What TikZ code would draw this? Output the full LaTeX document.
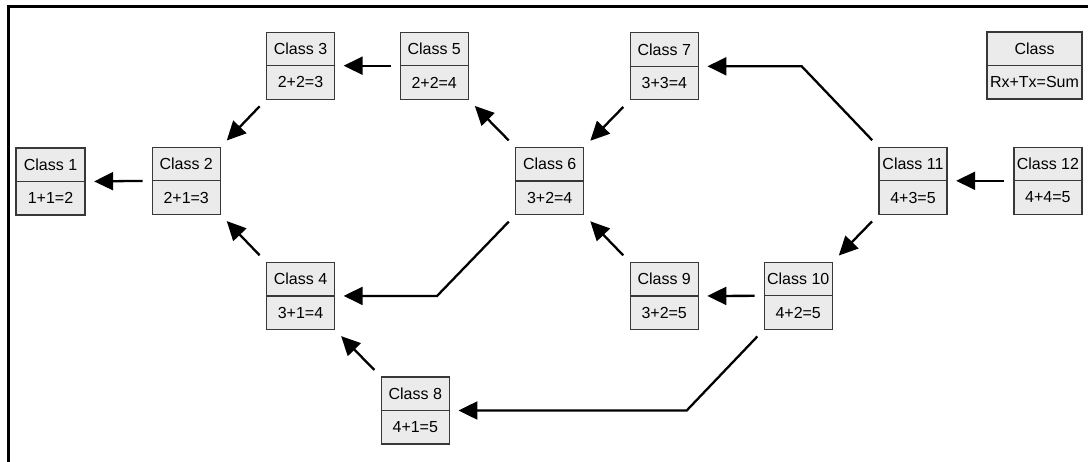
\documentclass[tikz,border=0pt]{standalone}
\usepackage{fontspec}
\setmainfont{Liberation Sans}
\usetikzlibrary{arrows.meta,calc}
\definecolor{boxfill}{HTML}{EBEBEB}
\definecolor{boxline}{HTML}{383838}
\tikzset{
  clsbox/.style={draw=boxline, fill=boxfill, line width=1.3pt, rectangle,
    minimum height=67pt, inner sep=0pt},
  clstext/.style={font=\fontsize{16}{18}\selectfont, inner sep=0pt, anchor=center},
  arr/.style={line width=2.3pt, -{Triangle[length=19pt,width=18pt]},
    shorten <=9pt, shorten >=8.5pt},
  frameline/.style={line width=3pt},
}
\newcommand\mkclass[5][68]{%
  \node[clsbox, minimum width=#1pt] (#2) at (#3) {};
  \draw[boxline, line width=1.3pt] (#2.west) -- (#2.east);
  \node[clstext] (#2-t) at ($(#2.center)+(0,-16.75)$) {#4};
  \node[clstext] (#2-b) at ($(#2.center)+(0,16.75)$) {#5};
}
\begin{document}
\begin{tikzpicture}[x=1pt,y=-1pt]
  \useasboundingbox (0,0) rectangle (1088,461);
  \clip (0,0) rectangle (1088,461);
  \draw[frameline] (8.5,480) -- (8.5,6.5) -- (1100,6.5);

  \mkclass[69]{c1}{50.5,181.5}{Class 1}{1+1=2}
  \mkclass{c2}{186.2,180.8}{Class 2}{2+1=3}
  \mkclass{c3}{300.5,65.7}{Class 3}{2+2=3}
  \mkclass{c5}{434.2,65.7}{Class 5}{2+2=4}
  \mkclass{c4}{300.5,295.9}{Class 4}{3+1=4}
  \mkclass{c6}{549.7,181}{Class 6}{3+2=4}
  \mkclass{c7}{664.3,66.3}{Class 7}{3+3=4}
  \mkclass{c9}{664.2,296}{Class 9}{3+2=5}
  \mkclass{c10}{798.2,295.8}{Class 10}{4+2=5}
  \mkclass{c11}{913,180.8}{Class 11}{4+3=5}
  \mkclass{c12}{1047.9,180.8}{Class 12}{4+4=5}
  \mkclass{c8}{415.3,410.5}{Class 8}{4+1=5}
  \mkclass[95]{leg}{1034.5,65.4}{Class}{Rx+Tx=Sum}

  \coordinate (k64) at (437,296);
  \coordinate (k108) at (686.7,410.5);
  \coordinate (k117) at (801.7,66.3);

  \draw[arr] (c2.west) -- (c1.east);
  \draw[arr] (c5.west) -- (c3.east);
  \draw[arr] (c12.west) -- (c11.east);
  \draw[arr] (c10.west) -- (c9.east);
  \draw[arr] (c3.south west) -- (c2.north east);
  \draw[arr] (c4.north west) -- (c2.south east);
  \draw[arr] (c6.north west) -- (c5.south east);
  \draw[arr] (c7.south west) -- (c6.north east);
  \draw[arr] (c9.north west) -- (c6.south east);
  \draw[arr] (c11.south west) -- (c10.north east);
  \draw[arr] (c8.north west) -- (c4.south east);
  \draw[arr] (c6.south west) -- (k64) -- (c4.east);
  \draw[arr] (c10.south west) -- (k108) -- (c8.east);
  \draw[arr] (c11.north west) -- (k117) -- (c7.east);
\end{tikzpicture}
\end{document}
